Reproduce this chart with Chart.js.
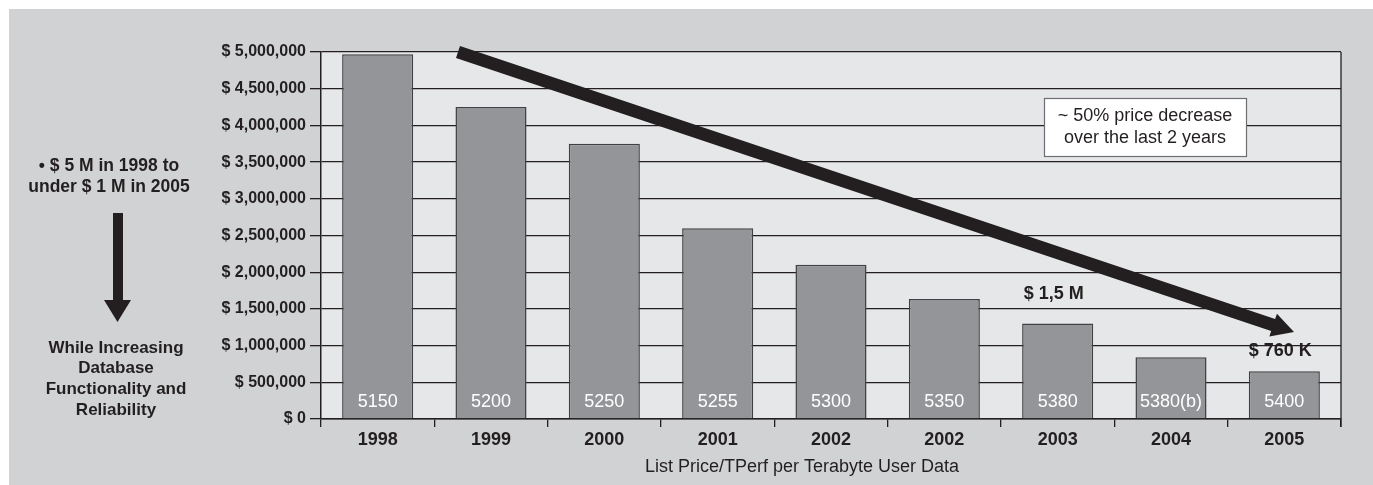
<!DOCTYPE html>
<html>
<head>
<meta charset="utf-8">
<script src="https://cdn.jsdelivr.net/npm/chart.js@4/dist/chart.umd.min.js"></script>
<style>
  html, body { margin: 0; padding: 0; background: #ffffff; }
  #wrap { width: 1373px; height: 485px; position: relative; }
</style>
</head>
<body>
<div id="wrap"><canvas id="c" width="1373" height="485"></canvas></div>
<script>
// ---- data ----
const categories = ['1998', '1999', '2000', '2001', '2002', '2002', '2003', '2004', '2005'];
const prices = [4970000, 4250000, 3750000, 2600000, 2100000, 1635000, 1300000, 840000, 650000];
const systemLabels = ['5150', '5200', '5250', '5255', '5300', '5350', '5380', '5380(b)', '5400'];
const yTickValues = [0, 500000, 1000000, 1500000, 2000000, 2500000, 3000000, 3500000, 4000000, 4500000, 5000000];
const xAxisTitle = 'List Price/TPerf per Terabyte User Data';
const leftNoteTop = ['\u2022 $ 5 M in 1998 to', 'under $ 1 M in 2005'];
const leftNoteBottom = ['While Increasing', 'Database', 'Functionality and', 'Reliability'];
const boxNote = ['~ 50% price decrease', 'over the last 2 years'];
const calloutIndex = [6, 8];
const calloutText = ['$ 1,5 M', '$ 760 K'];

// ---- layout / style (not data) ----
const calloutLift = [30, 20];
const FONT = "'Liberation Sans', Arial, Helvetica, sans-serif";
const DARK = '#231f20';

function fmtMoney(v) {
  return '$ ' + v.toLocaleString('en-US');
}

const decor = {
  id: 'decor',
  beforeDraw(chart) {
    const ctx = chart.ctx;
    const a = chart.chartArea;
    ctx.save();
    ctx.fillStyle = '#ffffff';
    ctx.fillRect(0, 0, chart.width, chart.height);
    ctx.fillStyle = '#d1d2d4';
    ctx.fillRect(9, 9, chart.width - 9, chart.height - 9);
    ctx.fillStyle = '#e6e7e8';
    ctx.fillRect(a.left, a.top, a.right - a.left, a.bottom - a.top);
    ctx.restore();
  },
  afterDraw(chart) {
    const ctx = chart.ctx;
    const a = chart.chartArea;
    const ys = chart.scales.y;
    const meta = chart.getDatasetMeta(0);
    ctx.save();

    // right border of plot area
    ctx.strokeStyle = DARK;
    ctx.lineWidth = 1.3;
    ctx.beginPath();
    ctx.moveTo(a.right, a.top);
    ctx.lineTo(a.right, a.bottom + 8);
    ctx.stroke();

    // labels inside bars
    ctx.fillStyle = '#ffffff';
    ctx.font = '18px ' + FONT;
    ctx.textAlign = 'center';
    ctx.textBaseline = 'middle';
    meta.data.forEach((bar, i) => {
      ctx.fillText(systemLabels[i], bar.x, ys.getPixelForValue(0) - 17);
    });

    // callouts above bars
    ctx.fillStyle = DARK;
    ctx.font = 'bold 18px ' + FONT;
    calloutIndex.forEach((idx, k) => {
      const bar = meta.data[idx];
      ctx.fillText(calloutText[k], bar.x - 4, bar.y - calloutLift[k]);
    });

    // x-axis title
    ctx.font = '18px ' + FONT;
    ctx.fillText(xAxisTitle, 802, 467);

    // big trend arrow
    const x0 = 458, y0 = 52, x1 = 1294, y1 = 332;
    const ang = Math.atan2(y1 - y0, x1 - x0);
    const headLen = 22, headHalf = 12, shaft = 6.3;
    const cos = Math.cos(ang), sin = Math.sin(ang);
    const bx = x1 - headLen * cos, by = y1 - headLen * sin;
    ctx.fillStyle = DARK;
    ctx.beginPath();
    ctx.moveTo(x0 + shaft * sin, y0 - shaft * cos);
    ctx.lineTo(bx + shaft * sin, by - shaft * cos);
    ctx.lineTo(bx + headHalf * sin, by - headHalf * cos);
    ctx.lineTo(x1, y1);
    ctx.lineTo(bx - headHalf * sin, by + headHalf * cos);
    ctx.lineTo(bx - shaft * sin, by + shaft * cos);
    ctx.lineTo(x0 - shaft * sin, y0 + shaft * cos);
    ctx.closePath();
    ctx.fill();

    // note box
    ctx.fillStyle = '#ffffff';
    ctx.fillRect(1044, 98, 202, 58);
    ctx.strokeStyle = '#6d6e71';
    ctx.lineWidth = 1.2;
    ctx.strokeRect(1044.5, 98.5, 202, 58);
    ctx.fillStyle = DARK;
    ctx.font = '18px ' + FONT;
    ctx.fillText(boxNote[0], 1145, 116);
    ctx.fillText(boxNote[1], 1145, 138);

    // left notes
    ctx.font = 'bold 17.5px ' + FONT;
    leftNoteTop.forEach((t, i) => ctx.fillText(t, 109, 166 + i * 21.5));
    ctx.font = 'bold 17px ' + FONT;
    leftNoteBottom.forEach((t, i) => ctx.fillText(t, 116, 348 + i * 20.7));
    // down arrow
    ctx.fillRect(113, 213, 10, 88);
    ctx.beginPath();
    ctx.moveTo(104, 300);
    ctx.lineTo(131, 300);
    ctx.lineTo(117.5, 322);
    ctx.closePath();
    ctx.fill();

    ctx.restore();
  }
};

new Chart(document.getElementById('c'), {
  type: 'bar',
  data: {
    labels: categories,
    datasets: [{
      data: prices,
      backgroundColor: '#939598',
      borderColor: '#414042',
      borderWidth: 1.5,
      barPercentage: 0.627,
      categoryPercentage: 1.0
    }]
  },
  options: {
    responsive: false,
    animation: false,
    devicePixelRatio: 1,
    layout: { padding: { left: 0, top: 52, right: 32, bottom: 0 } },
    plugins: { legend: { display: false }, tooltip: { enabled: false } },
    scales: {
      x: {
        offset: true,
        grid: { display: true, drawOnChartArea: false, drawTicks: true, tickLength: 8, color: DARK, lineWidth: 1.3, offset: true },
        border: { display: true, color: DARK, width: 1.5 },
        ticks: { color: DARK, font: { family: FONT, size: 18, weight: 'bold' }, padding: 2 },
        afterFit(s) { s.height = 66; }
      },
      y: {
        min: 0,
        max: 5000000,
        afterBuildTicks(s) { s.ticks = yTickValues.map(v => ({ value: v })); },
        grid: { color: DARK, lineWidth: 1.3, tickLength: 11, drawTicks: true },
        border: { display: true, color: DARK, width: 1.5 },
        ticks: {
          color: DARK,
          font: { family: FONT, size: 16, weight: 'bold' },
          padding: 4,
          callback: v => fmtMoney(v)
        },
        afterFit(s) { s.width = 321; }
      }
    }
  },
  plugins: [decor]
});
</script>
</body>
</html>
